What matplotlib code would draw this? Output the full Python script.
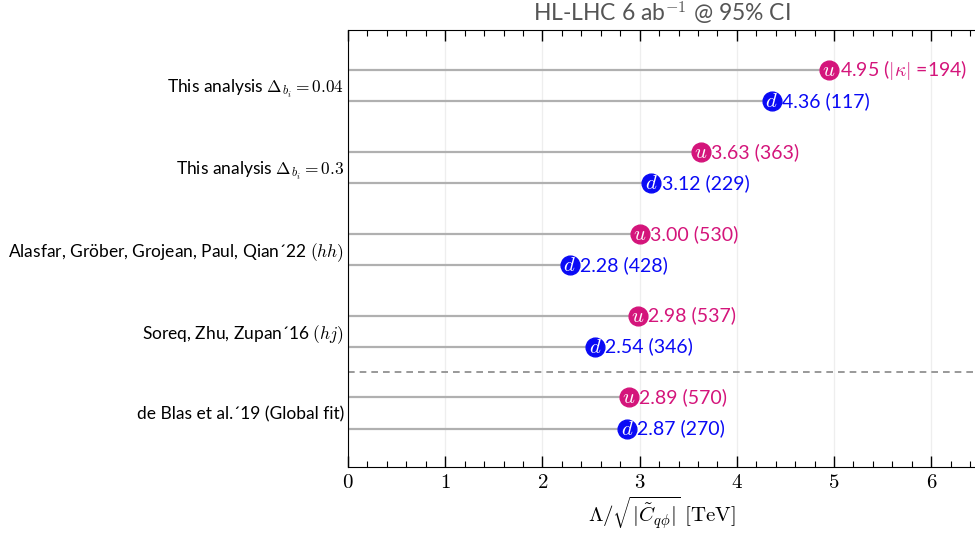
import numpy as np
import matplotlib
matplotlib.use("Agg")
import matplotlib.pyplot as plt
from matplotlib.ticker import MultipleLocator

plt.rcParams['mathtext.fontset'] = 'cm'
plt.rcParams['font.family'] = ['Lato', 'DejaVu Sans']

# data, top to bottom
labels = [r'This analysis $\Delta_{b_i} = 0.04$',
          r'This analysis $\Delta_{b_i} = 0.3$',
          'Alasfar, Gröber, Grojean, Paul, Qian\u00b422 $(hh)$',
          'Soreq, Zhu, Zupan\u00b416 $(hj)$',
          'de Blas et al.\u00b419 (Global fit)']
u_vals = [4.95, 3.63, 3.00, 2.98, 2.89]
d_vals = [4.36, 3.12, 2.28, 2.54, 2.87]
u_txt = [r'4.95 ($|\kappa|$ =194)', '3.63 (363)', '3.00 (530)', '2.98 (537)', '2.89 (570)']
d_txt = ['4.36 (117)', '3.12 (229)', '2.28 (428)', '2.54 (346)', '2.87 (270)']

u_col = '#d4157b'
d_col = '#0a0af5'

fig = plt.figure(figsize=(9.75, 5.38), dpi=100)
ax = fig.add_axes([348/975, 71/538, 1 - 348/975, 437/538])

n = len(labels)
ycent = np.arange(n)[::-1].astype(float)
dy = 0.19

for i in range(n):
    for val, txt, col, let, yy in [(u_vals[i], u_txt[i], u_col, 'u', ycent[i] + dy),
                                   (d_vals[i], d_txt[i], d_col, 'd', ycent[i] - dy)]:
        ax.plot([0, val], [yy, yy], color='#b0b0b0', lw=1.6, zorder=2)
        ax.plot(val, yy, 'o', ms=13.5, color=col, mec=col, zorder=3)
        ax.text(val, yy, '$%s$' % let, color='white', fontsize=15,
                ha='center', va='center', zorder=4)
        ax.annotate(txt, (val, yy), xytext=(7.5, 0), textcoords='offset points',
                    color=col, fontsize=14, ha='left', va='center')

ax.axhline(0.5, color='#888888', lw=1.2, ls=(0, (4, 3)), zorder=1)

ax.set_xlim(0, 6.45)
ax.set_ylim(-0.66, 4.68)
ax.set_yticks(ycent)
ax.set_yticklabels(labels, fontsize=12.5)
ax.tick_params(axis='y', length=0, pad=3)

ax.set_xticks(range(7))
ax.set_xticklabels(['$%d$' % k for k in range(7)], fontsize=15)
ax.xaxis.set_minor_locator(MultipleLocator(0.2))
ax.tick_params(axis='x', which='major', direction='in', length=8, top=True, width=1)
ax.tick_params(axis='x', which='minor', direction='in', length=4, top=True, width=0.8)
ax.grid(axis='x', color='#eeeeee', lw=0.9, zorder=0)
ax.set_axisbelow(True)
ax.spines['right'].set_visible(False)

ax.set_xlabel(r'$\Lambda/\sqrt{|\tilde{C}_{q\phi}|}\ \mathrm{[TeV]}$', fontsize=15, labelpad=2)
ax.set_title(r'HL-LHC 6 ab$^{-1}$ @ 95% CI', fontsize=16.5, color='#555555', pad=6)

fig.savefig('out.png', dpi=100)
